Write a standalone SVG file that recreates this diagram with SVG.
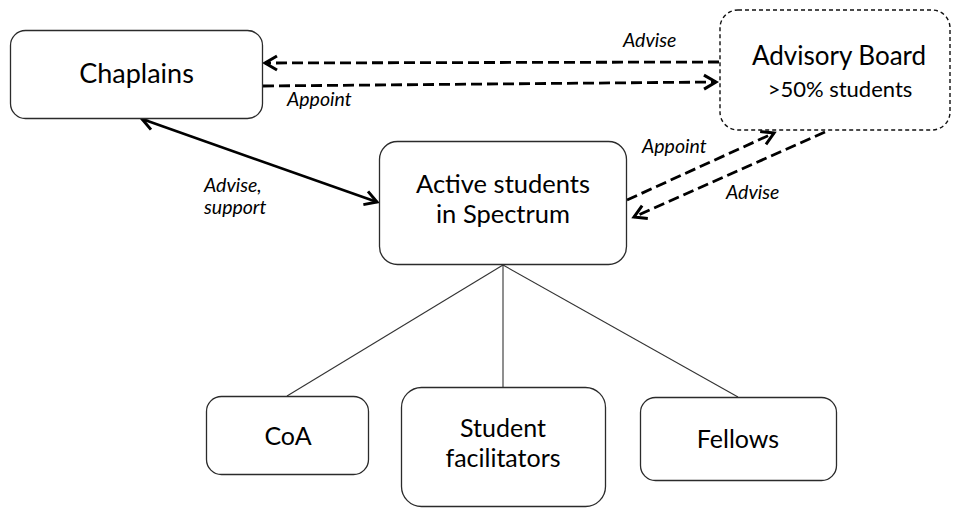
<svg xmlns="http://www.w3.org/2000/svg" width="953" height="508" viewBox="0 0 953 508">
  <defs>
    <!-- open V arrowhead, sized in user units -->
    <marker id="arrow" markerUnits="userSpaceOnUse" markerWidth="20" markerHeight="20" viewBox="-14 -10 16 20" refX="0" refY="0" orient="auto-start-reverse">
      <path d="M -12 -7 L 0 0 L -12 7" fill="none" stroke="#000" stroke-width="3" stroke-dasharray="none" stroke-linejoin="miter"/>
    </marker>
    <style>
      .box { fill: #fff; stroke: #2b2b2b; stroke-width: 1.3; }
      .board { fill: #fff; stroke: #111; stroke-width: 1.4; stroke-dasharray: 4 3; }
      .label { font-family: Lato, "Open Sans", sans-serif; fill: #000; text-anchor: middle; }
      .edge-label { font-family: Lato, "Open Sans", sans-serif; font-style: italic; fill: #000; font-size: 19.5px; }
      .dash { fill: none; stroke: #000; stroke-width: 2.8; stroke-dasharray: 11 5; }
      .solid { fill: none; stroke: #000; stroke-width: 2.6; }
      .tree { fill: none; stroke: #333; stroke-width: 1.1; }
    </style>
  </defs>

  <rect width="953" height="508" fill="#fff"/>

  <!-- connectors -->
  <g id="connectors">
    <path class="tree" d="M 503 265 L 287 396"/>
    <path class="tree" d="M 503 265 L 503 387"/>
    <path class="tree" d="M 503 265 L 738 397"/>
    <path class="dash" d="M 719 62 L 265 63" marker-end="url(#arrow)"/>
    <path class="dash" d="M 263 86 L 716 82" marker-end="url(#arrow)"/>
    <path class="solid" d="M 142 119 L 377 202" marker-start="url(#arrow)" marker-end="url(#arrow)"/>
    <path class="dash" d="M 627 200 L 774 133" marker-end="url(#arrow)"/>
    <path class="dash" d="M 825 132 L 634 217" marker-end="url(#arrow)"/>
    <text class="edge-label" x="623" y="47">Advise</text>
    <text class="edge-label" x="287" y="106">Appoint</text>
    <text class="edge-label" x="204" y="192">Advise,</text>
    <text class="edge-label" x="204" y="214">support</text>
    <text class="edge-label" x="642" y="153">Appoint</text>
    <text class="edge-label" x="726" y="199">Advise</text>
  </g>

  <g id="chaplains">
    <rect class="box" x="10.5" y="30.5" width="252" height="88" rx="15"/>
    <text class="label" x="136.5" y="83" font-size="27">Chaplains</text>
  </g>

  <g id="advisory-board">
    <rect class="board" x="720" y="10" width="230" height="120" rx="18"/>
    <text class="label" x="839" y="65" font-size="26">Advisory Board</text>
    <text class="label" x="840" y="97" font-size="22">&gt;50% students</text>
  </g>

  <g id="active-students">
    <rect class="box" x="379.5" y="141.5" width="247" height="123" rx="18"/>
    <text class="label" x="503" y="193" font-size="25.5">Active students</text>
    <text class="label" x="503" y="223" font-size="25.5">in Spectrum</text>
  </g>

  <g id="coa">
    <rect class="box" x="206.5" y="396.5" width="162" height="78" rx="15"/>
    <text class="label" x="288" y="445" font-size="25">CoA</text>
  </g>

  <g id="student-facilitators">
    <rect class="box" x="401.5" y="387.5" width="204" height="119" rx="20"/>
    <text class="label" x="503" y="437" font-size="25">Student</text>
    <text class="label" x="503" y="467" font-size="25">facilitators</text>
  </g>

  <g id="fellows">
    <rect class="box" x="640.5" y="397.5" width="196" height="83" rx="15"/>
    <text class="label" x="738" y="448" font-size="25">Fellows</text>
  </g>
</svg>
